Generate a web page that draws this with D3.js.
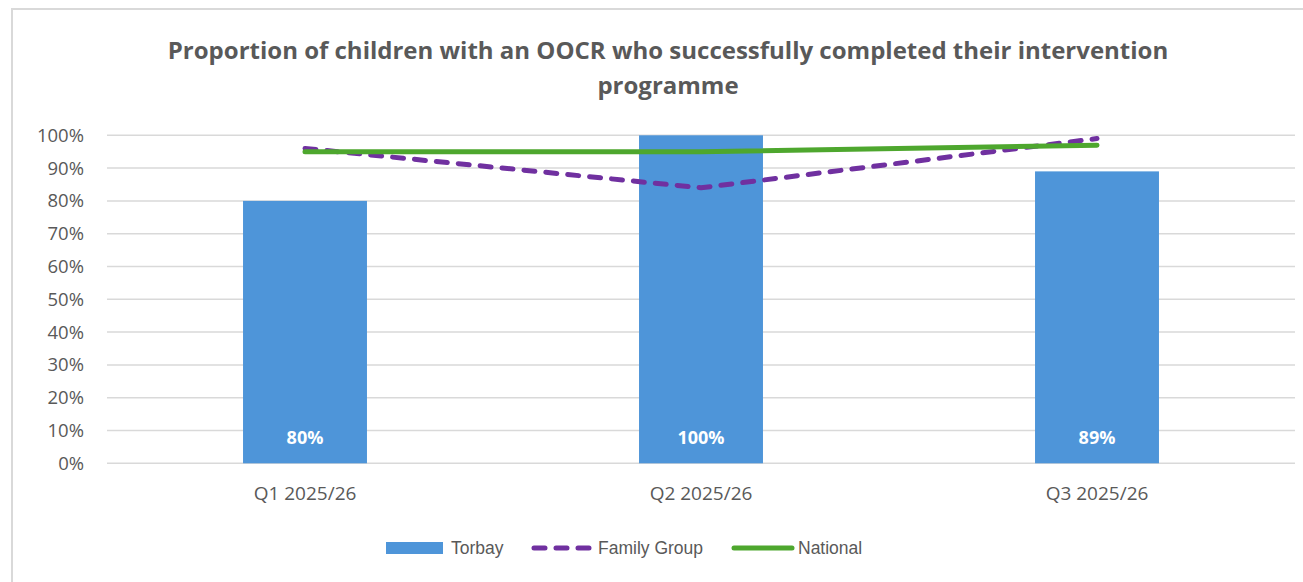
<!DOCTYPE html>
<html>
<head>
<meta charset="utf-8">
<script src="https://cdn.jsdelivr.net/npm/d3@7"></script>
<style>
  html, body { margin: 0; padding: 0; background: #fff; }
  svg { display: block; }
</style>
</head>
<body>
<svg id="chart" width="1303" height="582"></svg>
<script>
// Chart data.
const quarters = ["Q1 2025/26", "Q2 2025/26", "Q3 2025/26"];
const torbay = [80, 100, 89];
const familyGroup = [96, 84, 99];
const national = [95, 95, 97];
const yTicks = [0, 10, 20, 30, 40, 50, 60, 70, 80, 90, 100];
const titleLines = [
  "Proportion of children with an OOCR who successfully completed their intervention",
  "programme"
];

const BAR_COLOR = "#4E95D9";
const FAMILY_COLOR = "#7030A0";
const NATIONAL_COLOR = "#4EA72E";
const TEXT_COLOR = "#595959";
const GRID_COLOR = "#D9D9D9";
const FONT = "'Open Sans', sans-serif";
const LEGEND_FONT = "'Liberation Sans', Arial, sans-serif";

const svg = d3.select("#chart");

// Outer chart frame.
svg.append("rect")
  .attr("x", 12).attr("y", 9)
  .attr("width", 1320).attr("height", 620)
  .attr("fill", "#fff")
  .attr("stroke", "#D9D9D9")
  .attr("stroke-width", 2);

const plot = { left: 107, right: 1295, top: 135.3, bottom: 463.3 };

const x = d3.scaleBand()
  .domain(quarters)
  .range([plot.left, plot.right])
  .paddingInner(0.687)
  .paddingOuter(0.3435);

const y = d3.scaleLinear()
  .domain([0, 100])
  .range([plot.bottom, plot.top]);

// Title.
svg.append("text")
  .attr("x", 668)
  .attr("text-anchor", "middle")
  .attr("font-family", "'Open Sans', sans-serif")
  .attr("font-weight", "700")
  .attr("font-size", "24px")
  .attr("fill", TEXT_COLOR)
  .selectAll("tspan")
  .data(titleLines)
  .join("tspan")
    .attr("x", 668)
    .attr("y", (d, i) => 59 + i * 35)
    .text(d => d);

// Gridlines.
svg.append("g")
  .selectAll("line")
  .data(yTicks)
  .join("line")
    .attr("x1", plot.left).attr("x2", plot.right)
    .attr("y1", d => y(d)).attr("y2", d => y(d))
    .attr("stroke", GRID_COLOR)
    .attr("stroke-width", 1.5);

// Y axis labels.
const yAxis = d3.axisLeft(y)
  .tickValues(yTicks)
  .tickFormat(d => d + "%")
  .tickSize(0)
  .tickPadding(0);

svg.append("g")
  .attr("transform", `translate(${plot.left - 23},0)`)
  .call(yAxis)
  .call(g => g.select(".domain").remove())
  .call(g => g.selectAll("text")
    .attr("font-family", FONT)
    .attr("font-size", "18.5px")
    .attr("fill", TEXT_COLOR));

// X axis labels.
const xAxis = d3.axisBottom(x).tickSize(0).tickPadding(0);
svg.append("g")
  .attr("transform", `translate(0,${plot.bottom + 23})`)
  .call(xAxis)
  .call(g => g.select(".domain").remove())
  .call(g => g.selectAll("text")
    .attr("font-family", FONT)
    .attr("font-size", "19px")
    .attr("fill", TEXT_COLOR));

// Bars.
svg.append("g")
  .selectAll("rect")
  .data(torbay)
  .join("rect")
    .attr("x", (d, i) => x(quarters[i]))
    .attr("y", d => y(d))
    .attr("width", x.bandwidth())
    .attr("height", d => y(0) - y(d))
    .attr("fill", BAR_COLOR);

// Data labels inside bars.
svg.append("g")
  .selectAll("text")
  .data(torbay)
  .join("text")
    .attr("x", (d, i) => x(quarters[i]) + x.bandwidth() / 2)
    .attr("y", y(0) - 19)
    .attr("text-anchor", "middle")
    .attr("font-family", FONT)
    .attr("font-weight", "700")
    .attr("font-size", "18px")
    .attr("fill", "#fff")
    .text(d => d + "%");

// Lines.
const line = d3.line()
  .x((d, i) => x(quarters[i]) + x.bandwidth() / 2)
  .y(d => y(d));

svg.append("path")
  .datum(familyGroup)
  .attr("d", line)
  .attr("fill", "none")
  .attr("stroke", FAMILY_COLOR)
  .attr("stroke-width", 5)
  .attr("stroke-linecap", "round")
  .attr("stroke-linejoin", "round")
  .attr("stroke-dasharray", "11,11");

svg.append("path")
  .datum(national)
  .attr("d", line)
  .attr("fill", "none")
  .attr("stroke", NATIONAL_COLOR)
  .attr("stroke-width", 5)
  .attr("stroke-linecap", "round")
  .attr("stroke-linejoin", "round");

// Legend.
const legend = svg.append("g")
  .attr("font-family", LEGEND_FONT)
  .attr("font-size", "17.5px")
  .attr("fill", TEXT_COLOR);

const legendY = 548;

legend.append("rect")
  .attr("x", 386).attr("y", legendY - 6)
  .attr("width", 57).attr("height", 12)
  .attr("fill", BAR_COLOR);
legend.append("text")
  .attr("x", 451).attr("y", legendY).attr("dy", "0.35em")
  .text("Torbay");

legend.append("line")
  .attr("x1", 534).attr("x2", 589)
  .attr("y1", legendY).attr("y2", legendY)
  .attr("stroke", FAMILY_COLOR)
  .attr("stroke-width", 5)
  .attr("stroke-linecap", "round")
  .attr("stroke-dasharray", "11,11");
legend.append("text")
  .attr("x", 598).attr("y", legendY).attr("dy", "0.35em")
  .text("Family Group");

legend.append("line")
  .attr("x1", 734).attr("x2", 792)
  .attr("y1", legendY).attr("y2", legendY)
  .attr("stroke", NATIONAL_COLOR)
  .attr("stroke-width", 5)
  .attr("stroke-linecap", "round");
legend.append("text")
  .attr("x", 798).attr("y", legendY).attr("dy", "0.35em")
  .text("National");
</script>
</body>
</html>
